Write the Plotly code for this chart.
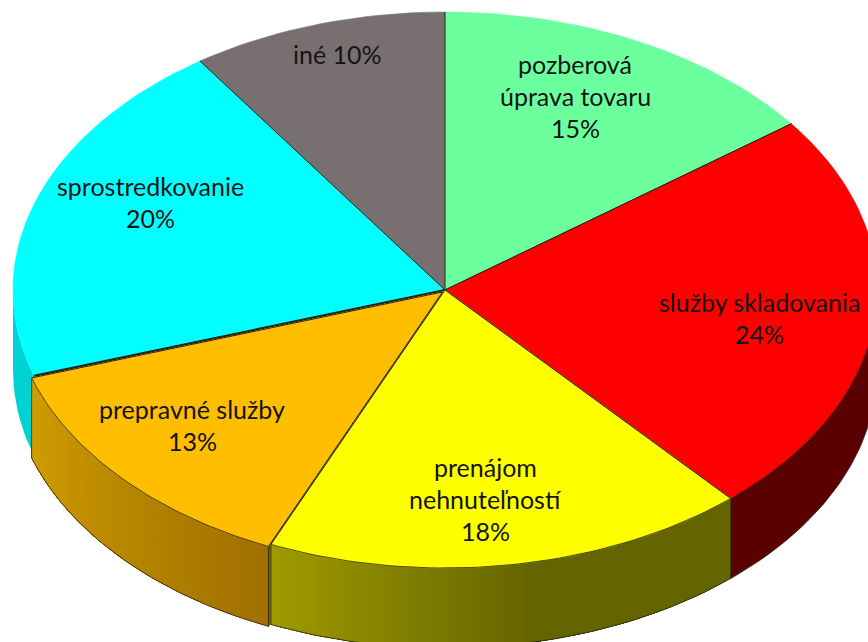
import math
import plotly.graph_objects as go

# Data
categories = ["pozberová úprava tovaru", "služby skladovania", "prenájom nehnuteľností",
              "prepravné služby", "sprostredkovanie", "iné"]
shares = [14.8, 23.7, 18.1, 13.4, 20.4, 9.6]
share_labels = ["15%", "24%", "18%", "13%", "20%", "10%"]
top_colors = ["#6CFF9E", "#FF0000", "#FFFF00", "#FFBE00", "#00FFFF", "#787070"]
wall_left = [None, (90, 0, 0), (160, 155, 0), (208, 158, 0), (0, 210, 212), None]
wall_right = [None, (90, 0, 0), (100, 100, 0), (160, 112, 0), (0, 210, 212), None]
label_lines = [["pozberová", "úprava tovaru", "15%"], ["služby skladovania", "24%"],
               ["prenájom", "nehnuteľností", "18%"], ["prepravné služby", "13%"],
               ["sprostredkovanie", "20%"], ["iné 10%"]]
label_anchor = [(575, 63.5), (759, 301.5), (485, 466.5), (192, 408.5), (150, 185.5), (337, 53.5)]

# Projection of the disc on the page
CX, CY, RX, RY, DEPTH = 445, 290, 432, 278, 80
LINE_STEP = 32
EXPLODE = {3: (-2.5, 2.0)}
EDGE = "#2a2418"


def pt(turn, off=(0, 0)):
    a = 2 * math.pi * turn
    return CX + off[0] + RX * math.sin(a), CY + off[1] - RY * math.cos(a)


def poly(xs, ys, fill, line=None, width=0.6):
    return go.Scatter(x=xs + xs[:1], y=ys + ys[:1], mode="lines", fill="toself",
                      fillcolor=fill, line=dict(color=line or fill, width=width),
                      hoverinfo="skip", showlegend=False)


def path(xs, ys, width=0.8):
    return go.Scatter(x=xs, y=ys, mode="lines", line=dict(color=EDGE, width=width),
                      hoverinfo="skip", showlegend=False)


def arc(t0, t1, off, m):
    return [pt(t0 + (t1 - t0) * k / m, off) for k in range(m + 1)]


def wall_band(t0, t1, off, col):
    pts = arc(t0, t1, off, max(2, int(240 * (t1 - t0))))
    xs = [p[0] for p in pts]
    ys = [p[1] for p in pts]
    return poly(xs + xs[::-1], ys + [y + DEPTH for y in ys[::-1]], col, col, 0)


total = sum(shares)
bounds = [0.0]
for v in shares:
    bounds.append(bounds[-1] + v / total)

fig = go.Figure()

# Side walls (back to front: cyan, red, orange, yellow)
for i in [4, 1, 3, 2]:
    off = EXPLODE.get(i, (0, 0))
    t0, t1 = max(bounds[i], 0.25), min(bounds[i + 1], 0.75)
    if i == 3:  # cut face of the pulled-out slice
        px, py = pt(bounds[i], off)
        qx, qy = CX + off[0], CY + off[1]
        fig.add_trace(poly([px, qx, qx, px], [py, qy, qy + DEPTH, py + DEPTH], "#7A5600", EDGE))
    if wall_left[i] == wall_right[i]:
        fig.add_trace(wall_band(t0, t1, off, "rgb(%d,%d,%d)" % wall_left[i]))
    else:
        n = 90
        for k in range(n):  # each band overlaps the next one, so no seams show
            a = t0 + (t1 - t0) * k / n
            s = (k + 0.5) / n
            g = min(1.0, max(0.0, (s - 0.45) / 0.55)) if i == 2 else s
            c = tuple(round(wall_right[i][j] + (wall_left[i][j] - wall_right[i][j]) * g)
                      for j in range(3))
            fig.add_trace(wall_band(a, t1, off, "rgb(%d,%d,%d)" % c))
    if i != 4:  # the cyan wall has no drawn outline
        pts = arc(t0, t1, off, 60)
        fig.add_trace(path([p[0] for p in pts], [p[1] + DEPTH for p in pts]))
        for t in (t0, t1):
            x, y = pt(t, off)
            fig.add_trace(path([x, x], [y, y + DEPTH]))

# Top faces
for i in [5, 0, 4, 1, 3, 2]:
    off = EXPLODE.get(i, (0, 0))
    t0, t1 = bounds[i], bounds[i + 1]
    pts = arc(t0, t1, off, max(8, int(240 * (t1 - t0))))
    xs = [CX + off[0]] + [p[0] for p in pts]
    ys = [CY + off[1]] + [p[1] for p in pts]
    if i == 3:  # dark seam in the gap behind the pulled-out slice
        x, y = pt(t1)
        fig.add_trace(path([CX, x], [CY, y], 2.2))
    fig.add_trace(poly(xs, ys, top_colors[i]))
    # spokes, and the rim only along the front
    fig.add_trace(path([xs[1], xs[0], xs[-1]], [ys[1], ys[0], ys[-1]], 1.0))
    a, b = max(t0, 0.25), min(t1, 0.75)
    if a < b and i != 4:
        rim = arc(a, b, off, 60)
        fig.add_trace(path([p[0] for p in rim], [p[1] for p in rim]))

# Slice labels
for lines, (ax, ay) in zip(label_lines, label_anchor):
    for j, line in enumerate(lines):
        fig.add_annotation(x=ax, y=ay + j * LINE_STEP, text=line, showarrow=False,
                           font=dict(family="Lato", size=25, color="#141414"),
                           xanchor="center", yanchor="middle")

fig.update_xaxes(range=[0, 868], visible=False, fixedrange=True)
fig.update_yaxes(range=[642, 0], visible=False, fixedrange=True)
fig.update_layout(width=868, height=642, margin=dict(l=0, r=0, t=0, b=0),
                  paper_bgcolor="white", plot_bgcolor="white", showlegend=False)
fig.write_html("out.html", config={"displayModeBar": False},
               post_script="document.body.style.margin='0';document.body.style.overflow='hidden';")
